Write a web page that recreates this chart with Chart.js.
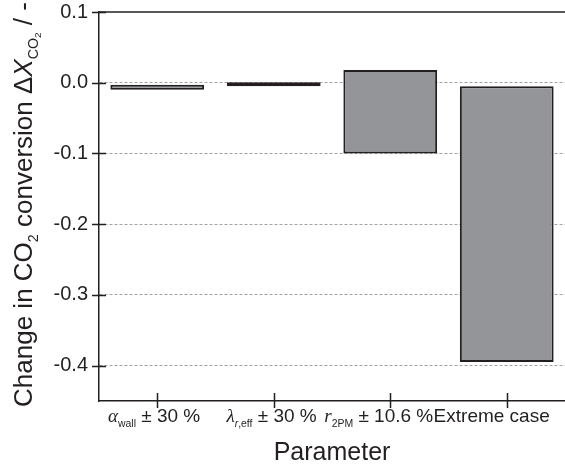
<!DOCTYPE html>
<html>
<head>
<meta charset="utf-8">
<script src="https://cdn.jsdelivr.net/npm/chart.js@4/dist/chart.umd.min.js"></script>
<style>
  body { margin: 0; background: #fff; }
  #wrap { width: 565px; height: 472px; }
</style>
</head>
<body>
<div id="wrap"><canvas id="myChart" width="565" height="472"></canvas></div>
<script>
// data
let categories = ['α_wall ± 30 %', 'λ_r,eff ± 30 %', 'r_2PM ± 10.6 %', 'Extreme case'];
let barLow = [-0.010, -0.005, -0.100, -0.395];
let barHigh = [-0.003, 0.0005, 0.018, -0.005];
let yTicks = [0.1, 0.0, -0.1, -0.2, -0.3, -0.4];

const ink = '#231f20';
const sans = '"Liberation Sans", Arial, sans-serif';
const serif = '"Liberation Serif", "Times New Roman", serif';

// rich tick labels (italic symbols + subscripts)
let labelParts = [
  [{ t: 'α', it: true, serif: true }, { t: 'wall', sub: 1 }, { t: ' ± 30 %' }],
  [{ t: 'λ', it: true, serif: true }, { t: 'r', sub: 1, it: true }, { t: ',eff', sub: 1 }, { t: ' ± 30 %' }],
  [{ t: 'r', it: true, serif: true }, { t: '2PM', sub: 1 }, { t: ' ± 10.6 %' }],
  [{ t: 'Extreme case' }]
];
let yTitleParts = [
  { t: 'Change in CO' }, { t: '2', sub: 1 }, { t: ' conversion Δ' },
  { t: 'X', it: true }, { t: 'CO', sub: 1 }, { t: '2', sub: 2 }, { t: ' / -' }
];

function partFont(p, size) {
  let s = p.sub === 2 ? size * 0.38 : p.sub ? size * 0.55 : size;
  return (p.it ? 'italic ' : '') + s + 'px ' + (p.serif ? serif : sans);
}

function richWidth(ctx, parts, size) {
  let w = 0;
  for (let i = 0; i < parts.length; i++) {
    ctx.font = partFont(parts[i], size);
    w += ctx.measureText(parts[i].t).width;
  }
  return w;
}

// draws parts left to right starting at x on baseline y
function drawRich(ctx, parts, x, y, size) {
  ctx.textAlign = 'left';
  ctx.textBaseline = 'alphabetic';
  for (let i = 0; i < parts.length; i++) {
    let p = parts[i];
    ctx.font = partFont(p, size);
    let dy = p.sub === 2 ? size * 0.36 : p.sub ? size * 0.24 : 0;
    ctx.fillText(p.t, x, y + dy);
    x += ctx.measureText(p.t).width;
  }
}

const extras = {
  id: 'extras',
  afterDraw(chart) {
    const ctx = chart.ctx;
    const area = chart.chartArea;
    const xs = chart.scales.x;
    const ys = chart.scales.y;
    ctx.save();
    ctx.strokeStyle = ink;
    ctx.fillStyle = ink;
    ctx.lineWidth = 1.5;

    // top frame line
    ctx.beginPath();
    ctx.moveTo(area.left, area.top);
    ctx.lineTo(area.right, area.top);
    ctx.stroke();

    // crossing tick marks
    ctx.beginPath();
    for (let i = 0; i < yTicks.length; i++) {
      let y = Math.round(ys.getPixelForValue(yTicks[i])) + 0.5;
      ctx.moveTo(area.left - 7, y);
      ctx.lineTo(area.left + 7, y);
    }
    for (let i = 0; i < categories.length; i++) {
      let x = Math.round(xs.getPixelForValue(i)) + 0.5;
      ctx.moveTo(x, area.bottom - 8);
      ctx.lineTo(x, area.bottom + 7);
    }
    ctx.stroke();

    // x tick labels, right edge just past each tick like the original
    for (let i = 0; i < labelParts.length; i++) {
      let w = richWidth(ctx, labelParts[i], 19);
      let right = Math.min(xs.getPixelForValue(i) + 43, 556);
      drawRich(ctx, labelParts[i], right - w, area.bottom + 21, 19);
    }

    // axis titles
    ctx.font = '25px ' + sans;
    ctx.textAlign = 'center';
    ctx.fillText('Parameter', (area.left + area.right) / 2, 460);

    let tw = richWidth(ctx, yTitleParts, 26);
    ctx.translate(32, (area.top + area.bottom) / 2 - 2);
    ctx.rotate(-Math.PI / 2);
    drawRich(ctx, yTitleParts, -tw / 2, 0, 26);
    ctx.restore();
  }
};

const ctx = document.getElementById('myChart').getContext('2d');

let options = {
  type: 'bar',
  data: {
    labels: categories,
    datasets: [{
      data: barLow.map((v, i) => [v, barHigh[i]]),
      backgroundColor: '#939598',
      borderColor: ink,
      borderWidth: 2,
      borderSkipped: false,
      barPercentage: 0.805,
      categoryPercentage: 1
    }]
  },
  options: {
    responsive: false,
    animation: false,
    layout: { padding: { top: 12, right: 0, left: 0, bottom: 0 } },
    plugins: { legend: { display: false }, tooltip: { enabled: false } },
    scales: {
      x: {
        offset: true,
        grid: { display: false, drawTicks: false },
        border: { color: ink, width: 1.5 },
        ticks: { display: false },
        afterFit: s => { s.height = 71; }
      },
      y: {
        min: -0.45,
        max: 0.1,
        afterBuildTicks: s => { s.ticks = yTicks.map(v => ({ value: v })); },
        grid: {
          drawTicks: false,
          lineWidth: 1,
          color: c => (c.tick && c.tick.value === 0.1) ? 'rgba(0,0,0,0)' : '#a3a3a3'
        },
        border: { color: ink, width: 1.5, dash: [3, 2] },
        ticks: {
          padding: 11,
          color: ink,
          font: { family: sans, size: 20 },
          callback: v => v.toFixed(1)
        },
        // fixed width, and no extra room for the end labels
        afterFit: s => { s.width = 99; s.paddingTop = 0; s.paddingBottom = 0; }
      }
    }
  },
  plugins: [extras]
};

const myChart = new Chart(ctx, options);
</script>
</body>
</html>
